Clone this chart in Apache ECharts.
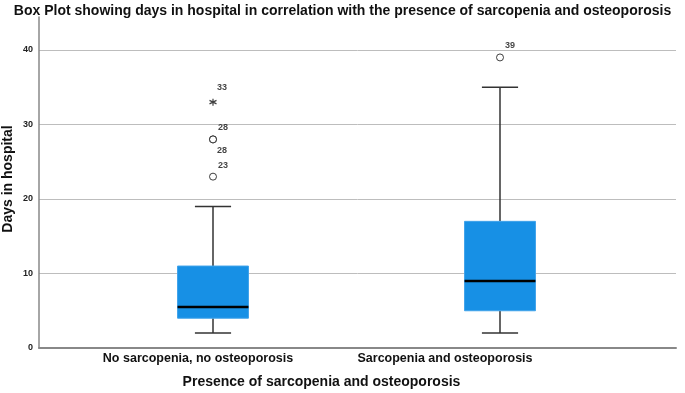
<!DOCTYPE html>
<html>
<head>
<meta charset="utf-8">
<script src="https://cdn.jsdelivr.net/npm/echarts@6/dist/echarts.min.js"></script>
<style>html,body{margin:0;padding:0;background:#fff}#c{width:685px;height:393px}</style>
</head>
<body>
<div id="c"></div>
<script>
const categories = ['No sarcopenia, no osteoporosis', 'Sarcopenia and osteoporosis'];
const whiskerLow = [2, 2];
const quartile1 = [4, 5];
const medians = [5.5, 9];
const quartile3 = [11, 17];
const whiskerHigh = [19, 35];
const outlierCat = [0, 0, 0, 1];
const outlierVal = [23, 28, 28, 39];
const outlierLabel = ['23', '28', '28', '39'];
const outlierLabelPos = ['top', 'top', 'bottom', 'top'];
const extremeCat = [0];
const extremeVal = [33];
const extremeLabel = ['33'];
const yTicks = [0, 10, 20, 30, 40];

const FONT = '"Liberation Sans", Arial, sans-serif';
const boxData = categories.map((c, i) => [i, whiskerLow[i], quartile1[i], medians[i], quartile3[i], whiskerHigh[i]]);

const chart = echarts.init(document.getElementById('c'), null, {renderer: 'canvas'});
const g = {outerBoundsMode: 'none', containLabel: false};
chart.setOption({
  animation: false,
  backgroundColor: '#fff',
  title: {
    text: 'Box Plot showing days in hospital in correlation with the presence of sarcopenia and osteoporosis',
    left: 'center', top: -1,
    textStyle: {fontFamily: FONT, fontWeight: 'bold', fontSize: 14, color: '#111'}
  },
  grid: [
    Object.assign({left: 39, right: 9, top: 17, bottom: 45}, g),
    Object.assign({left: 39, right: 9, top: 50, bottom: 45}, g),
    Object.assign({left: 69.5, width: 574, top: 50, bottom: 45}, g),
    Object.assign({left: 74.5, width: 494, top: 50, bottom: 45}, g)
  ],
  xAxis: [
    {gridIndex: 0, type: 'category', data: categories, axisLine: {show: true, lineStyle: {color: '#888', width: 2}}, axisTick: {show: false}, axisLabel: {show: false}, splitLine: {show: false}},
    {gridIndex: 1, type: 'category', data: categories, show: false},
    {gridIndex: 2, type: 'category', data: categories, show: false},
    {gridIndex: 3, type: 'category', data: categories,
      axisLine: {show: false}, axisTick: {show: false},
      axisLabel: {show: true, interval: 0, hideOverlap: false, margin: 4, fontFamily: FONT, fontWeight: 'bold', fontSize: 12.5, color: '#111'},
      name: 'Presence of sarcopenia and osteoporosis', nameLocation: 'middle', nameGap: 27,
      nameTextStyle: {fontFamily: FONT, fontWeight: 'bold', fontSize: 14, color: '#111'}}
  ],
  yAxis: [
    {gridIndex: 0, type: 'value', min: 0, max: 40, axisLine: {show: true, lineStyle: {color: '#888', width: 1.5}}, axisTick: {show: false}, axisLabel: {show: false}, splitLine: {show: false},
      name: 'Days in hospital', nameLocation: 'middle', nameGap: 24,
      nameTextStyle: {fontFamily: FONT, fontWeight: 'bold', fontSize: 14, color: '#111', padding: [0, 0, 0, 7]}},
    {gridIndex: 1, type: 'value', min: 0, max: 40, interval: 10,
      axisLine: {show: false}, axisTick: {show: false},
      axisLabel: {margin: 6, fontFamily: FONT, fontWeight: 'bold', fontSize: 9, color: '#222'},
      splitLine: {show: true, lineStyle: {color: '#bdbdbd', width: 1}}},
    {gridIndex: 2, type: 'value', min: 0, max: 40, show: false},
    {gridIndex: 3, type: 'value', min: 0, max: 40, show: false}
  ],
  series: [
    {
      type: 'custom', xAxisIndex: 2, yAxisIndex: 2, clip: false,
      data: boxData,
      encode: {x: 0, y: [1, 2, 3, 4, 5]},
      renderItem: function (params, api) {
        const x = api.value(0);
        const pMin = api.coord([x, api.value(1)]);
        const pQ1 = api.coord([x, api.value(2)]);
        const pMed = api.coord([x, api.value(3)]);
        const pQ3 = api.coord([x, api.value(4)]);
        const pMax = api.coord([x, api.value(5)]);
        const band = api.size([1, 0])[0];
        const bw = band * 0.247;
        const cw = band * 0.126;
        const cx = pMin[0];
        const wStyle = {stroke: '#333', lineWidth: 1.5};
        return {
          type: 'group',
          children: [
            {type: 'line', shape: {x1: cx, y1: pMax[1], x2: cx, y2: pQ3[1]}, style: wStyle},
            {type: 'line', shape: {x1: cx, y1: pQ1[1], x2: cx, y2: pMin[1]}, style: wStyle},
            {type: 'line', shape: {x1: cx - cw / 2, y1: pMax[1], x2: cx + cw / 2, y2: pMax[1]}, style: wStyle},
            {type: 'line', shape: {x1: cx - cw / 2, y1: pMin[1], x2: cx + cw / 2, y2: pMin[1]}, style: wStyle},
            {type: 'rect', shape: {x: cx - bw / 2, y: pQ3[1], width: bw, height: pQ1[1] - pQ3[1]}, style: {fill: '#1790E5', stroke: '#3FA2EA', lineWidth: 1}},
            {type: 'line', shape: {x1: cx - bw / 2, y1: pMed[1], x2: cx + bw / 2, y2: pMed[1]}, style: {stroke: '#000', lineWidth: 2.5}}
          ]
        };
      }
    },
    {
      type: 'scatter', xAxisIndex: 2, yAxisIndex: 2, clip: false,
      symbol: 'circle', symbolSize: 7,
      itemStyle: {color: '#fff', borderColor: '#111', borderWidth: 1},
      data: outlierVal.map((v, i) => ({
        value: [outlierCat[i], v],
        label: {show: true, formatter: outlierLabel[i], position: outlierLabelPos[i], offset: outlierLabelPos[i] === 'top' ? [10, 2] : [9, -2],
          fontFamily: FONT, fontWeight: 'bold', fontSize: 9, color: '#111'}
      }))
    },
    {
      type: 'scatter', xAxisIndex: 2, yAxisIndex: 2, clip: false,
      symbol: 'path://M5,0L5,10M0.67,2.5L9.33,7.5M0.67,7.5L9.33,2.5', symbolSize: 7,
      itemStyle: {color: 'none', borderColor: '#111', borderWidth: 1.2},
      data: extremeVal.map((v, i) => ({
        value: [extremeCat[i], v],
        label: {show: true, formatter: extremeLabel[i], position: 'top', offset: [9, 1],
          fontFamily: FONT, fontWeight: 'bold', fontSize: 9, color: '#111'}
      }))
    }
  ]
});
</script>
</body>
</html>
